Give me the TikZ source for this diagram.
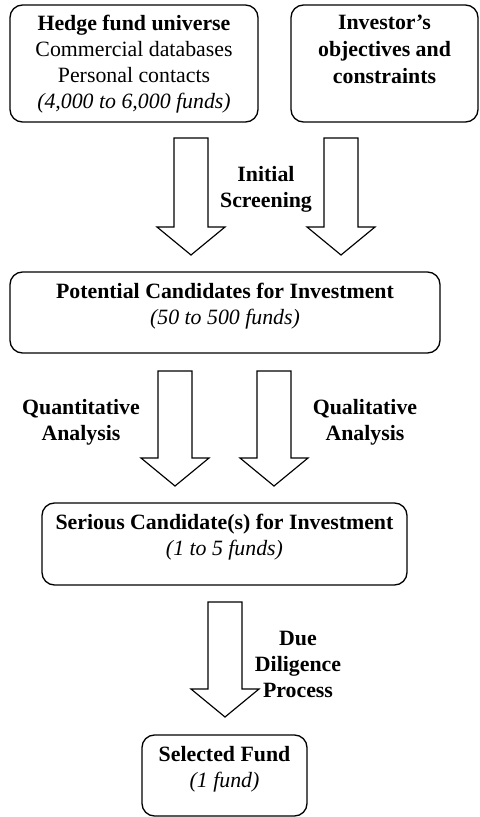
\documentclass[tikz,border=0pt]{standalone}
\usepackage{fontspec}
\setmainfont{Liberation Serif}
\usetikzlibrary{positioning,calc}

\newcommand\blockarrow[2]{% shaft top #1, tip #2
  \draw[hollowarrow] let \p1=(#1), \p2=(#2) in
    (\x1-10.2pt,\y1) -- (\x1+10.2pt,\y1) -- (\x1+10.2pt,\y2+16.8pt) -- (\x1+20.4pt,\y2+16.8pt)
    -- (\x2,\y2) -- (\x1-20.4pt,\y2+16.8pt) -- (\x1-10.2pt,\y2+16.8pt) -- cycle;}

\begin{document}
\begin{tikzpicture}[x=0.6pt, y=-0.6pt, line join=round,
    font=\fontsize{13.1pt}{15.6pt}\selectfont,
    frame/.style={draw, line width=0.8pt, rounded corners=7.5pt, inner sep=0pt},
    boxtext/.style={align=center, inner sep=0pt},
    steplabel/.style={align=center, inner sep=0pt, font=\fontsize{13.1pt}{15.6pt}\selectfont\bfseries},
    hollowarrow/.style={draw, line width=0.7pt, line join=miter}]
  \useasboundingbox (0,0) rectangle (479,817);

  % boxes
  \node[frame, minimum width=148.8pt, minimum height=70.2pt] (hedge) at (134,63.5) {};
  \node[boxtext, below=6.4pt of hedge.north] (hedgetext)
    {\textbf{Hedge fund universe}\\Commercial databases\\Personal contacts\\\textit{(4,000 to 6,000 funds)}};
  \node[frame, minimum width=112.2pt, minimum height=70.2pt] (investor) at (384.5,63.5) {};
  \node[boxtext, below=6.2pt of investor.north, font=\fontsize{13.1pt}{16.2pt}\selectfont\bfseries] (investortext)
    {Investor's\\objectives and\\constraints};
  \node[frame, minimum width=258pt, minimum height=48.6pt] (potential) at (225,312.5) {};
  \node[boxtext, below=7pt of potential.north] (potentialtext)
    {\textbf{Potential Candidates for Investment}\\\textit{(50 to 500 funds)}};
  \node[frame, minimum width=219pt, minimum height=49.2pt] (serious) at (224.5,544) {};
  \node[boxtext, below=7pt of serious.north] (serioustext)
    {\textbf{Serious Candidate(s) for Investment}\\\textit{(1 to 5 funds)}};
  \node[frame, minimum width=99pt, minimum height=48.6pt] (selected) at (224.5,775.5) {};
  \node[boxtext, below=7pt of selected.north] (selectedtext)
    {\textbf{Selected Fund}\\\textit{(1 fund)}};

  % arrows
  \coordinate (scrA) at (191,138);  \coordinate (scrAtip) at (191,255);
  \coordinate (scrB) at (341,138);  \coordinate (scrBtip) at (341,255);
  \coordinate (quant) at (175,371); \coordinate (quanttip) at (175,486);
  \coordinate (quali) at (274,371); \coordinate (qualitip) at (274,486);
  \coordinate (due) at (225,602);   \coordinate (duetip) at (225,717);
  \blockarrow{scrA}{scrAtip}
  \blockarrow{scrB}{scrBtip}
  \blockarrow{quant}{quanttip}
  \blockarrow{quali}{qualitip}
  \blockarrow{due}{duetip}

  % labels
  \node[steplabel] (screenlbl) at (266,189.5) {Initial\\Screening};
  \node[steplabel] (quantlbl) at (81,422) {Quantitative\\Analysis};
  \node[steplabel] (qualilbl) at (365,422) {Qualitative\\Analysis};
  \node[steplabel] (duelbl) at (298,664.5) {Due\\Diligence\\Process};
\end{tikzpicture}
\end{document}
